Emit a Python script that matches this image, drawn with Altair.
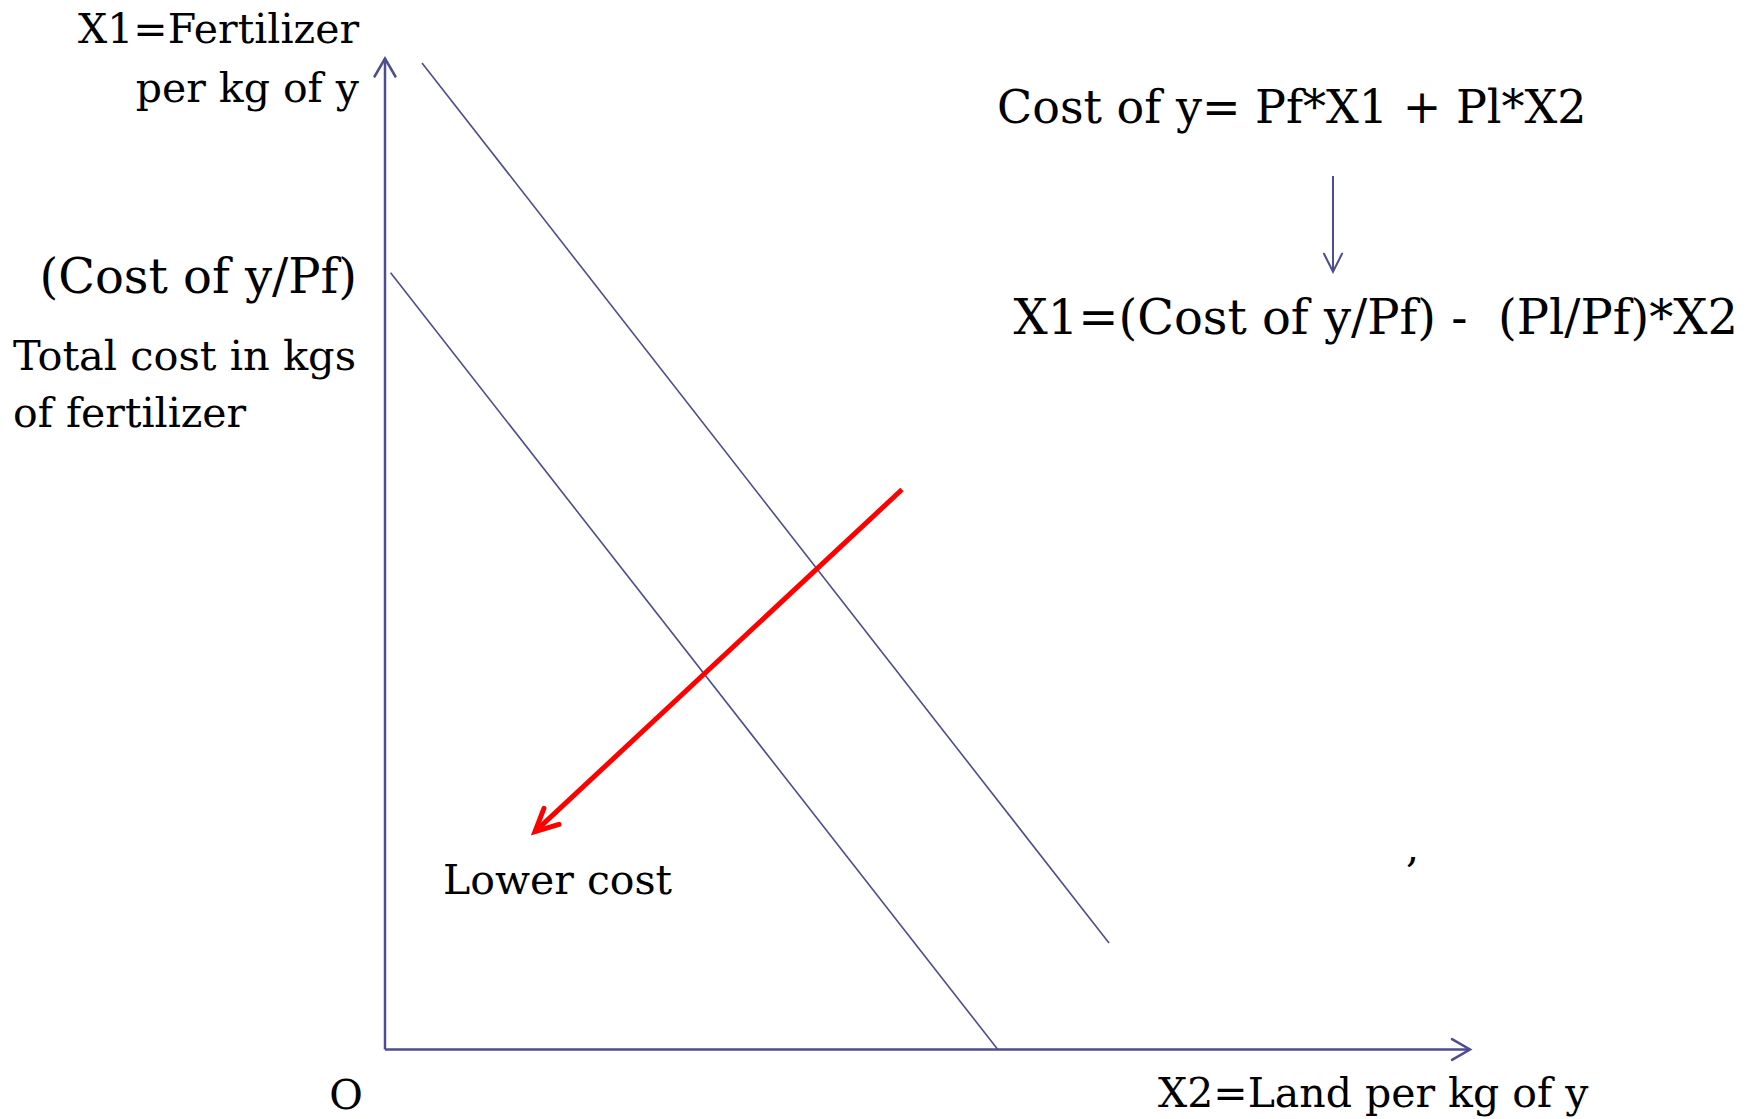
import math
import altair as alt
import pandas as pd

# ---- diagram data (axis units; origin O at the corner of the axes) ----
seg_names = ["y_axis", "x_axis", "cost_high", "cost_low", "derive_arrow", "lower_cost_arrow"]
seg_x1 = [0.0, 0.0, 0.37, 0.056, 9.48, 5.17]
seg_y1 = [0.0, 0.0, 9.866, 7.768, 8.735, 5.60]
seg_x2 = [0.0, 10.85, 7.24, 6.128, 9.48, 1.50]
seg_y2 = [9.91, 0.0, 1.065, 0.0, 7.778, 2.178]
arrow_tips = ["y_axis", "x_axis", "derive_arrow", "lower_cost_arrow"]

lab_text = ["Total cost in kgs", "of fertilizer", "Cost of y= Pf*X1 + Pl*X2",
            "X1=(Cost of y/Pf) -\u00a0 (Pl/Pf)*X2", "Lower cost", ",", "X2=Land per kg of y",
            "X1=Fertilizer", "per kg of y", "(Cost of y/Pf)", "O"]
lab_x = [-3.72, -3.72, 6.12, 6.285, 0.58, 10.21, 7.73, -0.26, -0.26, -0.28, -0.39]
lab_y = [6.795, 6.225, 9.265, 7.155, 1.555, 1.875, -0.575, 10.065, 9.475, 7.565, -0.59]
lab_anchor = ["left", "left", "left", "left", "left", "left", "left",
              "right", "right", "right", "center"]

# ---- tables ----
seg = pd.DataFrame({"name": seg_names, "x1": seg_x1, "y1": seg_y1, "x2": seg_x2, "y2": seg_y2})
tips = seg[seg["name"].isin(arrow_tips)].copy()
tips["angle"] = [
    (math.degrees(math.atan2(r.x2 - r.x1, r.y2 - r.y1)) + 360) % 360 for r in tips.itertuples()
]
labels = pd.DataFrame({"t": lab_text, "x": lab_x, "y": lab_y, "anchor": lab_anchor})

W, H = 1744, 1111
xs = alt.Scale(domain=[-3.77, -3.77 + W / 100], nice=False, zero=False)
ys = alt.Scale(domain=[10.415 - H / 100, 10.415], nice=False, zero=False)

BLUE = "#4D4D8F"
RED = "#FF0000"
FONT = "DejaVu Serif"
SIZES = {"(Cost of y/Pf)": 48, "Total cost in kgs": 41.5,
         "Cost of y= Pf*X1 + Pl*X2": 46, "X1=(Cost of y/Pf) -\u00a0 (Pl/Pf)*X2": 48}
labels["fs"] = [SIZES.get(t, 41) for t in labels["t"]]


def segs(names, color, width):
    d = seg[seg["name"].isin(names)]
    return alt.Chart(d).mark_rule(color=color, strokeWidth=width, strokeCap="butt").encode(
        x=alt.X("x1:Q", scale=xs, axis=None),
        y=alt.Y("y1:Q", scale=ys, axis=None),
        x2="x2:Q",
        y2="y2:Q",
    )


def heads(names, color, width, size, spread):
    d = tips[tips["name"].isin(names)]
    path = f"M {-spread} 1 L 0 0 L {spread} 1"
    return alt.Chart(d).mark_point(
        shape=path, filled=False, stroke=color, strokeWidth=width, size=size,
        opacity=1, strokeCap="round", strokeJoin="miter",
    ).encode(
        x=alt.X("x2:Q", scale=xs, axis=None),
        y=alt.Y("y2:Q", scale=ys, axis=None),
        angle=alt.Angle("angle:Q", scale=None),
    )


def texts(align):
    d = labels[labels["anchor"] == align]
    return alt.Chart(d).mark_text(
        align=align, baseline="alphabetic", font=FONT, color="black"
    ).encode(
        x=alt.X("x:Q", scale=xs, axis=None),
        y=alt.Y("y:Q", scale=ys, axis=None),
        text="t:N",
        size=alt.Size("fs:Q", scale=None, legend=None),
    )


chart = alt.layer(
    segs(["y_axis", "x_axis"], BLUE, 2.5),
    segs(["cost_high", "cost_low"], BLUE, 1.6),
    segs(["derive_arrow"], BLUE, 2),
    heads(["y_axis", "x_axis"], BLUE, 2.5, 1296, 0.58),
    heads(["derive_arrow"], BLUE, 2, 1296, 0.5),
    segs(["lower_cost_arrow"], RED, 5),
    heads(["lower_cost_arrow"], RED, 5, 2025, 0.49),
    texts("left"),
    texts("right"),
    texts("center"),
).properties(
    width=W, height=H, background="white",
    autosize=alt.AutoSizeParams(type="none"),
    padding=0,
).configure_view(stroke=None)

chart.save("out.html", embed_options={"renderer": "svg", "actions": False})
